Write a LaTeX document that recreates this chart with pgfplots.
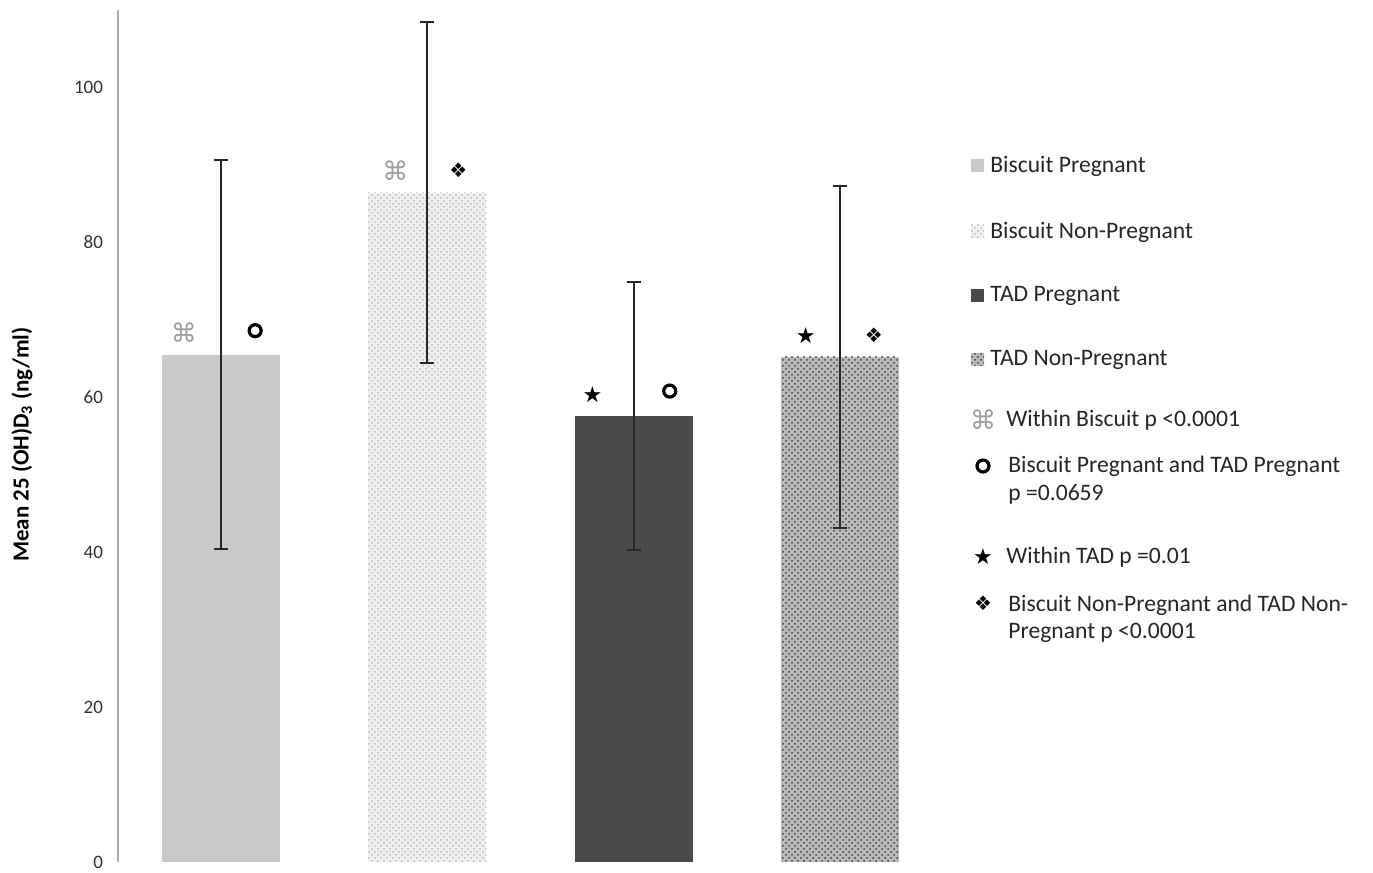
\documentclass[border=0pt]{standalone}
\usepackage{fontspec}
\setmainfont{Carlito}
\newfontfamily\dejavu{DejaVu Sans}
\usepackage{pgfplots}
\pgfplotsset{compat=1.18}
\usetikzlibrary{patterns}
\definecolor{barA}{HTML}{C8C8C8}
\definecolor{barC}{HTML}{4A4A4A}
\definecolor{txt}{HTML}{262626}
\begin{document}
\begin{tikzpicture}
\path[use as bounding box] (0,0) rectangle (686.5pt,436.5pt);
\begin{axis}[
  at={(59pt,5.5pt)}, anchor=south west,
  scale only axis, width=412.5pt, height=426pt,
  xmin=-0.5, xmax=3.5, ymin=0, ymax=110,
  axis x line=none, axis y line*=left,
  y axis line style={draw=gray!65, line width=0.9pt},
  ytick={0,20,...,100}, major tick length=0pt,
  /pgf/number format/assume math mode=true,
  yticklabel style={font=\fontsize{9.5}{11}\selectfont, text=black!80, xshift=-4pt},
  ylabel={\textbf{Mean 25 (OH)D\textsubscript{3} (ng/ml)}},
  every axis y label/.style={at={(axis description cs:-0.1164,0.49)}, rotate=90, anchor=center, font=\fontsize{11.5}{13}\selectfont, text=black},
  clip=false,
]
\pgfplotsset{errb/.style={error bars/.cd, y dir=both, y explicit,
   error bar style={line width=0.9pt, black!85},
   error mark options={rotate=90, mark size=3.5pt, line width=0.9pt, black!85}}}
\addplot[ybar, bar width=0.573, bar shift=0pt, fill=barA, draw=none, errb]
  coordinates {(0,65.5) +- (0,25.1)};
\addplot[ybar, bar width=0.573, bar shift=0pt, fill=gray!12, draw=none,
  postaction={pattern=crosshatch dots, pattern color=gray!55}, errb]
  coordinates {(1,86.4) +- (0,22.0)};
\addplot[ybar, bar width=0.573, bar shift=0pt, fill=barC, draw=none, errb]
  coordinates {(2,57.6) +- (0,17.3)};
\addplot[ybar, bar width=0.573, bar shift=0pt, fill=gray!55, draw=none,
  postaction={pattern=crosshatch dots, pattern color=black!75}, errb]
  coordinates {(3,65.2) +- (0,22.1)};
% significance symbols
\addplot[only marks, mark=text, text mark={\dejavu\fontsize{13}{13}\selectfont\color{gray!75}⌘}]
  coordinates {(-0.18,68.4) (0.845,89.3)};
\addplot[only marks, mark=o, mark size=3pt, line width=1.6pt, black]
  coordinates {(0.165,68.6) (2.175,60.8)};
\addplot[only marks, mark=text, text mark={\dejavu\fontsize{11}{11}\selectfont\color{black}★}]
  coordinates {(1.80,60.4) (2.835,68.0)};
\addplot[only marks, mark=text, text mark={\dejavu\fontsize{10}{10}\selectfont\color{black}❖}]
  coordinates {(1.15,89.3) (3.165,68.0)};
\end{axis}
% legend
\begin{scope}[every node/.style={font=\fontsize{11.8}{13}\selectfont, text=txt, inner sep=0pt}]
\fill[barA] (485.5pt,350.5pt) rectangle (492pt,357pt);
\node[anchor=west] at (495pt,353.5pt) {Biscuit Pregnant};
\fill[gray!12] (485.5pt,317.5pt) rectangle (492pt,324pt);
\fill[pattern=crosshatch dots, pattern color=gray!55] (485.5pt,317.5pt) rectangle (492pt,324pt);
\node[anchor=west] at (495pt,320.5pt) {Biscuit Non-Pregnant};
\fill[barC] (485.5pt,285.5pt) rectangle (492pt,292pt);
\node[anchor=west] at (495pt,288.5pt) {TAD Pregnant};
\fill[gray!55] (485.5pt,253.5pt) rectangle (492pt,260pt);
\fill[pattern=crosshatch dots, pattern color=black!75] (485.5pt,253.5pt) rectangle (492pt,260pt);
\node[anchor=west] at (495pt,256.5pt) {TAD Non-Pregnant};
\node[text=gray!75, font=\dejavu\fontsize{13}{13}\selectfont] at (491.5pt,226.5pt) {⌘};
\node[anchor=west] at (503pt,226.5pt) {Within Biscuit p <0.0001};
\draw[black, line width=1.6pt] (491.5pt,203.5pt) circle (3pt);
\node[anchor=west] at (504pt,203.5pt) {Biscuit Pregnant and TAD Pregnant};
\node[anchor=west] at (504pt,189.5pt) {p =0.0659};
\node[text=black, font=\dejavu\fontsize{11}{11}\selectfont] at (491.5pt,158pt) {★};
\node[anchor=west] at (503pt,158pt) {Within TAD p =0.01};
\node[text=black, font=\dejavu\fontsize{10}{10}\selectfont] at (491.5pt,135pt) {❖};
\node[anchor=west] at (504pt,134pt) {Biscuit Non-Pregnant and TAD Non-};
\node[anchor=west] at (504pt,120pt) {Pregnant p <0.0001};
\end{scope}
\end{tikzpicture}
\end{document}
